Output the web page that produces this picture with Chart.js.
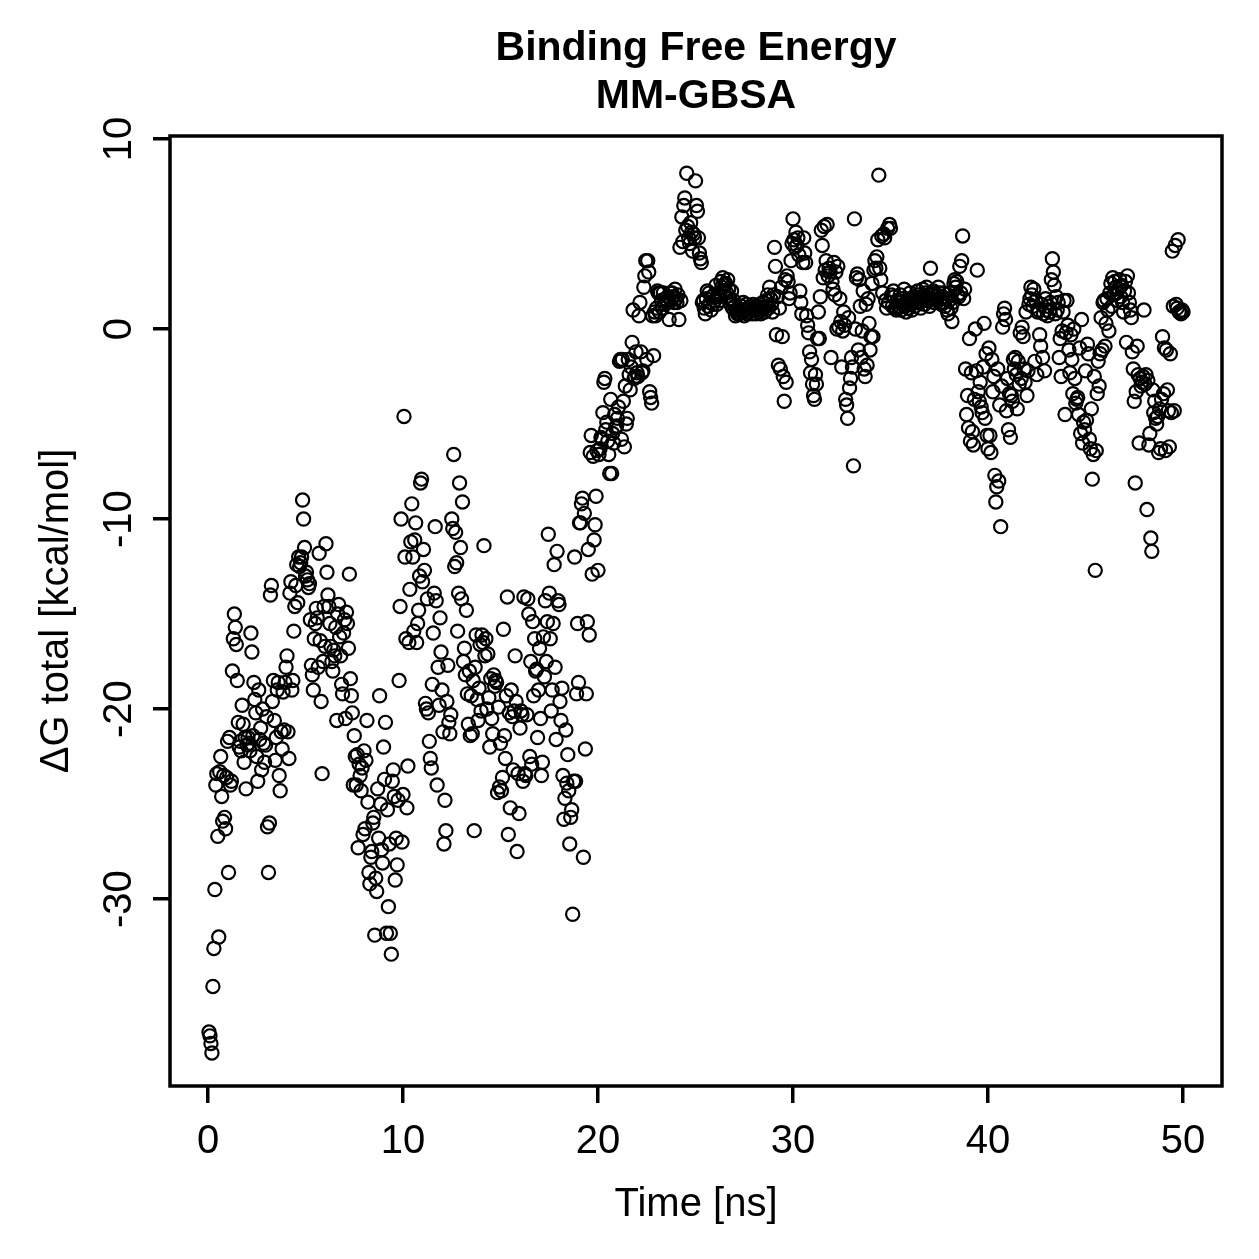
<!DOCTYPE html>
<html>
<head>
<meta charset="utf-8">
<script src="https://cdn.jsdelivr.net/npm/chart.js@4.4.1/dist/chart.umd.min.js"></script>
<style>html,body{margin:0;padding:0;background:#fff;}canvas{display:block;}</style>
</head>
<body>
<canvas id="c" width="1259" height="1259"></canvas>
<script>
// ---- data (ΔG total, kcal/mol), one value every 0.05 ns ----
const timeStep = 0.05;
const dG_00_10 = [
-37.0,-37.2,-37.6,-38.1,-34.6,-32.6,-29.5,-24.0,-23.4,-26.7,-32.0,-23.3,-22.5,-24.6,-25.9,-23.5,-25.7,-26.3,-23.6,-21.7,
-28.6,-21.5,-24.0,-23.8,-18.0,-16.3,-15.0,-15.7,-16.6,-18.5,-20.7,-22.0,-21.7,-22.2,-19.8,-20.8,-22.8,-21.5,-24.2,-21.9,
-21.5,-21.8,-22.2,-16.0,-17.0,-21.4,-18.6,-19.5,-20.2,-22.5,-23.8,-19.0,-21.6,-21.0,-23.2,-20.0,-21.8,-22.8,-21.9,-20.4,
-26.2,-28.6,-26.0,-14.0,-13.5,-19.6,-18.5,-20.6,-22.7,-21.5,-19.0,-18.6,-23.5,-24.3,-21.2,-22.1,-19.1,-21.1,-18.6,-17.8,
-17.2,-21.2,-22.6,-13.9,-13.3,-19.0,-18.5,-15.9,-14.6,-13.5,-12.4,-14.4,-12.0,-12.5,-12.3,-12.0,-9.0,-10.0,-11.5,-13.0,
-12.8,-13.2,-13.6,-13.4,-15.3,-17.7,-18.2,-19.0,-16.3,-15.5,-14.7,-15.2,-17.8,-11.8,-16.4,-19.6,-23.4,-17.5,-14.6,-16.7,
-11.3,-12.8,-14.0,-14.6,-15.5,-16.7,-17.5,-18.0,-16.9,-17.2,-15.7,-20.6,-15.0,-14.5,-16.2,-17.2,-18.7,-19.2,-16.0,-15.3,
-20.5,-14.9,-15.5,-16.8,-12.9,-18.4,-19.3,-20.2,-24.0,-21.4,-22.5,-24.0,-22.4,-27.3,-22.9,-23.5,-24.3,-23.1,-26.6,-22.2,
-26.3,-22.7,-20.6,-24.9,-28.6,-29.2,-27.8,-27.5,-26.0,-25.7,-31.9,-28.9,-29.6,-24.2,-26.8,-19.3,-25.0,-27.4,-28.1,-22.0,
-23.7,-20.7,-31.8,-25.3,-30.4,-27.1,-31.8,-32.9,-23.8,-23.2,-24.6,-29.0,-26.8,-28.2,-24.8,-18.5,-14.6,-10.0,-27.0,-24.5
];
const dG_10_20 = [
-4.6,-12.0,-16.3,-25.2,-23.0,-16.5,-13.7,-11.2,-9.2,-12.0,-15.9,-11.1,-10.2,-16.5,-15.5,-14.8,-13.0,-8.1,-7.9,-13.3,
-11.6,-12.7,-19.7,-20.0,-14.2,-20.2,-21.7,-22.6,-23.1,-18.7,-16.0,-13.9,-10.4,-14.3,-24.0,-17.8,-19.8,-15.2,-17.0,-19.0,
-21.2,-27.1,-24.8,-26.4,-19.6,-17.7,-20.7,-21.3,-20.3,-10.0,-10.5,-6.6,-12.5,-10.7,-12.3,-15.9,-13.9,-8.1,-11.5,-14.2,
-9.1,-17.5,-16.8,-18.2,-14.8,-19.2,-20.8,-18.0,-21.4,-19.3,-21.3,-18.5,-26.4,-17.8,-16.1,-19.5,-20.6,-18.9,-16.6,-20.1,
-16.1,-16.5,-11.4,-17.2,-16.3,-20.0,-17.1,-19.4,-22.0,-18.4,-20.5,-21.3,-18.2,-18.8,-18.5,-18.6,-24.4,-19.9,-24.1,-21.8,
-24.3,-23.6,-15.8,-21.4,-22.6,-19.3,-14.1,-26.6,-20.2,-25.2,-19.0,-20.4,-23.2,-20.1,-17.2,-19.6,-27.5,-23.4,-25.5,-21.0,
-20.1,-20.3,-23.8,-14.1,-23.4,-23.5,-20.3,-14.2,-15.0,-22.5,-17.5,-22.9,-15.4,-19.3,-16.3,-18.0,-17.9,-21.5,-19.0,-16.8,
-20.5,-23.5,-22.8,-16.2,-18.3,-14.3,-17.5,-15.4,-10.8,-13.9,-16.3,-20.1,-19.0,-15.5,-12.4,-17.8,-21.6,-11.7,-14.3,-14.5,
-19.6,-20.6,-18.9,-23.5,-25.8,-24.7,-21.1,-23.9,-22.4,-24.3,-27.1,-25.7,-25.3,-30.8,-23.8,-12.0,-23.8,-19.2,-15.5,-18.6,
-10.2,-10.2,-9.2,-8.9,-27.8,-9.7,-22.1,-19.2,-15.4,-11.6,-16.1,-6.5,-5.6,-12.9,-6.7,-11.1,-10.3,-8.8,-6.4,-12.7
];
const dG_20_30 = [
-6.6,-6.3,-5.7,-5.8,-4.4,-2.8,-2.6,-5.3,-4.9,-5.9,-6.6,-7.6,-3.7,-7.6,-5.5,-6.0,-4.5,-5.2,-5.1,-4.7,
-4.1,-1.7,-1.6,-5.8,-1.6,-3.8,-6.2,-3.0,-5.0,-4.7,-1.6,-2.4,-3.2,-2.0,-0.7,1.0,-2.6,-2.5,-1.2,-2.3,
-2.5,0.7,1.4,-1.2,-2.3,-2.2,2.2,2.8,3.6,-1.6,3.6,3.0,-3.3,-3.6,-3.9,0.7,-1.4,0.9,0.7,1.1,
2.0,1.9,0.9,1.9,1.5,1.1,1.9,1.3,1.6,1.5,1.4,1.7,0.5,1.9,1.5,1.9,1.7,1.4,2.1,1.6,
1.4,1.8,0.5,4.3,1.5,5.9,4.6,6.5,6.9,5.2,8.2,5.4,4.8,4.5,5.6,5.1,4.1,5.0,4.8,7.8,
6.5,6.2,4.8,4.0,3.7,3.5,1.4,1.5,1.1,0.8,1.6,2.0,1.2,1.9,1.4,1.0,1.7,1.3,1.8,1.5,
2.3,1.3,1.8,1.7,1.5,2.5,2.2,2.7,2.0,2.3,2.4,1.9,2.6,2.1,1.6,1.3,2.0,1.1,1.5,1.2,
0.7,1.0,0.8,1.1,0.8,0.9,1.2,0.9,1.4,0.7,1.0,1.3,0.8,1.1,0.9,1.2,1.0,0.8,1.3,1.1,
1.0,0.8,1.2,0.9,1.1,1.3,0.8,1.0,1.4,1.1,0.9,1.2,1.5,1.8,1.1,2.2,1.6,1.3,0.9,1.8,
4.3,3.3,-0.3,1.7,-1.9,1.1,-2.1,2.2,-0.4,-2.5,-3.8,2.6,-2.8,2.8,2.5,1.6,1.9,3.6,4.5,5.8
];
const dG_30_40 = [
4.7,4.3,5.1,4.4,4.8,3.9,2.0,1.4,0.8,3.5,4.8,4.0,3.5,0.7,0.2,-0.2,-1.2,-2.3,-1.6,-2.9,
-3.5,-3.7,-2.4,-2.9,-0.5,0.9,-0.5,1.7,5.2,4.4,2.7,5.4,3.1,3.6,5.5,2.8,3.2,3.0,-1.5,2.5,
2.1,3.5,1.8,3.0,0.0,3.3,0.1,1.6,0.4,-2.0,-0.1,0.9,0.2,-3.7,-4.0,-4.7,0.6,-3.1,-2.6,-1.5,
-2.0,-7.2,5.8,0.0,2.7,2.9,-1.1,2.6,1.2,-1.5,-0.1,2.0,-2.1,-2.5,1.3,-1.9,1.6,0.3,-1.1,-0.4,
2.4,-0.4,3.1,3.6,3.2,3.8,4.7,8.1,3.2,2.6,4.9,1.9,5.0,4.8,1.5,1.1,5.3,1.4,5.5,5.3,
1.8,1.2,2.0,1.7,1.1,1.0,1.5,1.2,1.4,1.8,1.0,1.6,1.3,2.1,1.2,0.9,1.5,1.1,1.6,1.9,
1.3,1.0,1.5,1.7,1.2,1.4,1.6,2.0,1.8,1.4,1.1,1.7,2.1,1.6,1.3,1.9,2.2,1.5,1.8,1.2,
3.2,1.6,1.9,2.0,1.4,1.7,1.5,1.8,2.2,1.9,1.6,1.3,1.7,1.9,1.4,1.2,1.6,1.0,0.8,1.5,
1.9,1.1,0.4,1.4,2.4,2.6,2.2,2.5,1.8,1.7,3.3,1.9,3.6,4.9,1.6,2.1,-2.1,-4.5,-3.5,-5.2,
-0.5,-5.9,-2.3,-5.4,-6.1,-3.7,0.0,-2.2,3.1,-3.3,-3.8,-2.8,-4.1,-4.4,-2.0,0.3,-4.7,-1.3,-5.6,-6.3
];
const dG_40_50 = [
-1.0,-5.6,-6.5,-1.6,-3.3,-2.5,-7.7,-9.1,-8.3,-2.1,-8.0,-4.0,-10.4,-3.0,0.1,0.8,1.1,0.5,-4.3,-2.6,
-5.3,-3.4,-5.7,-3.5,-3.8,-1.6,-2.1,-1.5,-2.4,-4.2,-1.7,-2.9,-0.2,-2.6,0.1,-0.4,-2.1,-2.8,0.9,-3.5,
-2.2,1.3,1.6,2.2,1.8,1.2,2.1,-1.7,1.5,-2.4,0.9,1.0,-0.3,-0.9,1.3,-1.5,0.8,-2.2,1.6,1.0,
0.7,1.2,0.9,1.4,2.6,3.7,3.0,2.3,0.8,1.7,1.0,1.4,-1.5,-0.5,-2.5,-0.1,0.9,1.5,-4.5,-0.2,
1.5,0.2,-1.1,-2.3,-0.3,-1.6,-3.4,0.0,-2.6,-3.9,-3.7,-3.6,-4.5,-1.0,-5.5,0.5,-6.0,-4.9,-5.3,-2.2,
-4.8,-0.8,-1.3,-5.8,-6.3,-4.2,-7.9,-6.6,-2.5,-12.7,-6.4,-3.4,-1.7,-3.0,-1.3,0.6,-1.1,1.4,1.5,-0.9,
0.3,1.6,1.0,-0.1,1.9,2.4,1.2,2.7,1.8,2.5,2.2,1.9,1.5,2.1,2.6,1.7,2.3,1.4,0.9,2.0,
2.5,-0.7,2.8,1.9,1.4,1.0,0.6,-1.2,-2.1,-3.8,-8.1,-3.3,-0.9,-2.4,-6.0,-2.6,-3.0,-2.8,-2.5,1.0,
-2.9,-2.4,-9.5,-2.7,-6.1,-5.5,-11.0,-11.7,-3.2,-4.4,-3.8,-4.7,-5.0,-4.6,-6.5,-4.2,-6.3,-3.7,-0.4,-3.4,
-1.0,-6.4,-1.1,-3.2,-4.3,-6.2,-1.3,-4.4,4.1,1.2,-4.3,4.4,1.3,1.1,4.7,0.9,0.9,0.8,1.0,0.9
];
const xTicks = [0, 10, 20, 30, 40, 50];
const yTicks = [-30, -20, -10, 0, 10];
const titleLines = ["Binding Free Energy", "MM-GBSA"];
const xLabel = "Time [ns]";
const yLabel = "ΔG total [kcal/mol]";

const dG = [].concat(dG_00_10, dG_10_20, dG_20_30, dG_30_40, dG_40_50);
const points = dG.map((v, i) => ({ x: +((i + 1) * timeStep).toFixed(2), y: v }));

const FONT = '"Liberation Sans", Arial, Helvetica, sans-serif';

const rPlot = {
  id: 'rPlot',
  afterDraw(chart) {
    const ctx = chart.ctx, a = chart.chartArea;
    const xs = chart.scales.x, ys = chart.scales.y;
    ctx.save();
    ctx.strokeStyle = '#000';
    ctx.lineWidth = 3.5;
    ctx.strokeRect(a.left, a.top, a.right - a.left, a.bottom - a.top);
    ctx.fillStyle = '#000';
    // title
    ctx.font = 'bold 41px ' + FONT;
    ctx.textAlign = 'center';
    ctx.textBaseline = 'alphabetic';
    const cx = (a.left + a.right) / 2;
    ctx.fillText(titleLines[0], cx, 60);
    ctx.fillText(titleLines[1], cx, 108);
    // x tick labels
    ctx.font = '40px ' + FONT;
    xTicks.forEach(v => ctx.fillText(String(v), xs.getPixelForValue(v), 1153));
    // x label
    ctx.fillText(xLabel, cx, 1216);
    // y tick labels (rotated)
    yTicks.forEach(v => {
      ctx.save();
      ctx.translate(131, ys.getPixelForValue(v));
      ctx.rotate(-Math.PI / 2);
      ctx.fillText(String(v), 0, 0);
      ctx.restore();
    });
    // y label
    ctx.save();
    ctx.translate(68, (a.top + a.bottom) / 2);
    ctx.rotate(-Math.PI / 2);
    ctx.fillText(yLabel, 0, 0);
    ctx.restore();
    ctx.restore();
  }
};

new Chart(document.getElementById('c'), {
  type: 'scatter',
  data: {
    datasets: [{
      data: points,
      pointStyle: 'circle',
      radius: 6.6,
      pointRadius: 6.6,
      pointHoverRadius: 6.6,
      borderWidth: 2.2,
      pointBorderWidth: 2.2,
      borderColor: '#000',
      pointBorderColor: '#000',
      backgroundColor: 'rgba(0,0,0,0)',
      pointBackgroundColor: 'rgba(0,0,0,0)'
    }]
  },
  options: {
    responsive: false,
    devicePixelRatio: 1,
    animation: false,
    events: [],
    layout: { padding: { left: 70, top: 136, right: 37, bottom: 0 } },
    plugins: { legend: { display: false }, tooltip: { enabled: false }, title: { display: false } },
    scales: {
      x: {
        type: 'linear', min: -1.95, max: 52,
        afterBuildTicks: s => { s.ticks = xTicks.map(v => ({ value: v })); },
        afterFit: s => { s.height = 173; },
        ticks: { display: false },
        border: { display: false },
        grid: { drawOnChartArea: false, drawTicks: true, tickLength: 17, lineWidth: 3.5, color: '#000' }
      },
      y: {
        type: 'linear', min: -39.84, max: 10.16,
        afterBuildTicks: s => { s.ticks = yTicks.map(v => ({ value: v })); },
        afterFit: s => { s.width = 100; },
        ticks: { display: false },
        border: { display: false },
        grid: { drawOnChartArea: false, drawTicks: true, tickLength: 17, lineWidth: 3.5, color: '#000' }
      }
    }
  },
  plugins: [rPlot]
});
</script>
</body>
</html>
